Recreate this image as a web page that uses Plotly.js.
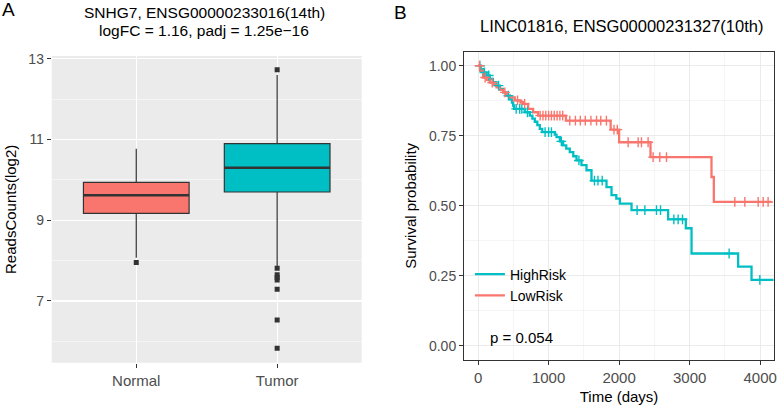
<!DOCTYPE html>
<html>
<head>
<meta charset="utf-8">
<script src="https://cdn.plot.ly/plotly-3.0.1.min.js"></script>
<style>html,body{margin:0;padding:0;background:#fff}#chart{width:778px;height:409px}</style>
</head>
<body>
<div id="chart"></div>
<script>
// ---------- Panel A data (box plot) ----------
const categories = ['Normal', 'Tumor'];
const categoryPos = [1, 2];
const q1 = [9.17, 9.70];
const median = [9.62, 10.30];
const q3 = [9.94, 10.90];
const lowerWhisker = [8.07, 7.86];
const upperWhisker = [10.77, 12.60];
const outliersNormal = [7.95];
const outliersTumor = [12.73, 7.81, 7.65, 7.58, 7.52, 7.29, 6.53, 5.83];
const boxColors = ['#F8766D', '#00BFC4'];

// ---------- Panel B data (Kaplan-Meier) ----------
const highTime = [0,40,71,120,166,210,261,310,355,400,450,480,497,510,662,733,770,804,840,875,910,1088,1112,1160,1206,1250,1300,1350,1396,1466,1537,1608,1821,1892,1960,2010,2176,2695,2946,3027,3688,3878,4190];
const highSurv = [1.0,0.988,0.976,0.965,0.953,0.941,0.929,0.917,0.905,0.893,0.88,0.868,0.858,0.846,0.834,0.822,0.811,0.8,0.788,0.775,0.763,0.754,0.745,0.73,0.716,0.704,0.692,0.677,0.662,0.645,0.627,0.59,0.567,0.538,0.526,0.508,0.485,0.452,0.42,0.33,0.283,0.236,0.236];
const lowTime = [0,30,71,120,166,220,261,310,355,403,450,520,600,639,709,780,851,1245,1880,2000,2445,3310,3343,4162];
const lowSurv = [1.0,0.982,0.958,0.95,0.94,0.931,0.923,0.914,0.905,0.893,0.887,0.876,0.87,0.864,0.846,0.834,0.822,0.804,0.772,0.727,0.674,0.603,0.514,0.514];
const highCensorTime = [25,90,150,290,430,540,590,620,700,950,1000,1040,1180,1430,1650,1700,1760,2255,2365,2530,2587,2776,2837,2899,3560,3996];
const lowCensorTime = [20,100,200,380,560,660,880,920,960,1000,1040,1080,1120,1160,1200,1300,1380,1450,1520,1600,1680,1740,1820,1927,1974,2128,2270,2317,2411,2482,2577,2672,3641,3783,3972,4043,4113];
const groups = ['HighRisk', 'LowRisk'];
const groupColors = ['#00BFC4', '#F8766D'];
const pValueText = 'p = 0.054';

// step-function lookup for censor marks
function survAt(times, surv, t) {
  let v = surv[0];
  for (let i = 0; i < times.length; i++) { if (times[i] <= t) v = surv[i]; else break; }
  return v;
}

const FONT = 'Liberation Sans, Arial, sans-serif';
const boxWidth = 0.75;
const traces = [];

// Boxes
categories.forEach((c, i) => {
  traces.push({
    type: 'box', name: c, x: [categoryPos[i]],
    q1: [q1[i]], median: [median[i]], q3: [q3[i]],
    lowerfence: [lowerWhisker[i]], upperfence: [upperWhisker[i]],
    width: boxWidth, whiskerwidth: 0, boxpoints: false,
    fillcolor: boxColors[i], line: {color: '#333333', width: 1.2},
    xaxis: 'x', yaxis: 'y', showlegend: false, hoverinfo: 'skip'
  });
  // thicker median line (ggplot fatten)
  traces.push({
    type: 'scatter', mode: 'lines',
    x: [categoryPos[i] - boxWidth / 2, categoryPos[i] + boxWidth / 2],
    y: [median[i], median[i]],
    line: {color: '#333333', width: 2.6},
    xaxis: 'x', yaxis: 'y', showlegend: false, hoverinfo: 'skip'
  });
});
// Outliers
const outs = [outliersNormal, outliersTumor];
outs.forEach((arr, i) => {
  traces.push({
    type: 'scatter', mode: 'markers',
    x: arr.map(() => categoryPos[i]), y: arr,
    marker: {symbol: 'square', size: 5, color: '#333333'},
    xaxis: 'x', yaxis: 'y', showlegend: false, hoverinfo: 'skip'
  });
});

// KM curves
const kmT = [highTime, lowTime], kmS = [highSurv, lowSurv], kmC = [highCensorTime, lowCensorTime];
groups.forEach((g, i) => {
  traces.push({
    type: 'scatter', mode: 'lines', name: g,
    x: kmT[i], y: kmS[i], line: {shape: 'hv', color: groupColors[i], width: 2.3},
    xaxis: 'x2', yaxis: 'y2', showlegend: true
  });
});
groups.forEach((g, i) => {
  traces.push({
    type: 'scatter', mode: 'markers', name: g + ' censor',
    x: kmC[i], y: kmC[i].map(t => survAt(kmT[i], kmS[i], t)),
    marker: {symbol: 'cross-thin', size: 7, line: {color: groupColors[i], width: 1.4}},
    xaxis: 'x2', yaxis: 'y2', showlegend: false, hoverinfo: 'skip'
  });
});

const tickFont = {family: FONT, size: 14, color: '#4D4D4D'};
const layout = {
  width: 778, height: 409,
  margin: {l: 0, r: 0, t: 0, b: 0},
  paper_bgcolor: '#ffffff', plot_bgcolor: '#ffffff',
  showlegend: true,
  legend: {x: 0.604, y: 0.368, xanchor: 'left', yanchor: 'top', bgcolor: 'rgba(0,0,0,0)',
           font: {family: FONT, size: 14, color: '#000'}, tracegroupgap: 0},
  xaxis: {
    domain: [0.0665, 0.4649], range: [0.4, 2.6],
    tickvals: categoryPos, ticktext: categories,
    showgrid: true, gridcolor: '#ffffff', gridwidth: 1.1, zeroline: false,
    ticks: 'outside', ticklen: 4, tickcolor: '#333333', tickwidth: 1,
    tickfont: {family: FONT, size: 15, color: '#4D4D4D'}, showline: false
  },
  yaxis: {
    domain: [0.1132, 0.8631], range: [5.47, 13.07],
    tickvals: [7, 9, 11, 13], showgrid: true, gridcolor: '#ffffff', gridwidth: 1.1, zeroline: false,
    minor: {tickvals: [6, 8, 10, 12], showgrid: true, gridcolor: '#ffffff', gridwidth: 0.5, ticks: ''},
    ticks: 'outside', ticklen: 4, tickcolor: '#333333', tickwidth: 1,
    tickfont: tickFont, showline: false,
    title: {text: 'ReadsCounts(log2)', font: {family: FONT, size: 15, color: '#000'}, standoff: 8}
  },
  xaxis2: {
    domain: [0.5964, 0.9949], range: [-200, 4197], anchor: 'y2',
    tickvals: [0, 1000, 2000, 3000, 4000],
    showgrid: true, gridcolor: '#EBEBEB', gridwidth: 1, zeroline: false,
    minor: {tickvals: [500, 1500, 2500, 3500], showgrid: true, gridcolor: '#EBEBEB', gridwidth: 0.5, ticks: ''},
    ticks: 'outside', ticklen: 4, tickcolor: '#333333', tickwidth: 1,
    tickfont: {family: FONT, size: 15, color: '#4D4D4D'},
    showline: true, mirror: true, linecolor: '#333333', linewidth: 1,
    title: {text: 'Time (days)', font: {family: FONT, size: 15, color: '#000'}, standoff: 6}
  },
  yaxis2: {
    domain: [0.1198, 0.8736], range: [-0.05, 1.05], anchor: 'x2',
    tickvals: [0, 0.25, 0.5, 0.75, 1], ticktext: ['0.00', '0.25', '0.50', '0.75', '1.00'],
    showgrid: true, gridcolor: '#EBEBEB', gridwidth: 1, zeroline: false,
    minor: {tickvals: [0.125, 0.375, 0.625, 0.875], showgrid: true, gridcolor: '#EBEBEB', gridwidth: 0.5, ticks: ''},
    ticks: 'outside', ticklen: 4, tickcolor: '#333333', tickwidth: 1,
    tickfont: tickFont,
    showline: true, mirror: true, linecolor: '#333333', linewidth: 1,
    title: {text: 'Survival probability', font: {family: FONT, size: 15, color: '#000'}, standoff: 8}
  },
  shapes: [
    {type: 'rect', xref: 'x domain', yref: 'y domain', x0: 0, x1: 1, y0: 0, y1: 1,
     fillcolor: '#EBEBEB', line: {width: 0}, layer: 'below'}
  ],
  annotations: [
    {text: 'A', xref: 'paper', yref: 'paper', x: 8.5 / 778, y: 1 - 9 / 409, xanchor: 'center', yanchor: 'middle',
     showarrow: false, font: {family: FONT, size: 19, color: '#000'}},
    {text: 'B', xref: 'paper', yref: 'paper', x: 400 / 778, y: 1 - 13 / 409, xanchor: 'center', yanchor: 'middle',
     showarrow: false, font: {family: FONT, size: 19, color: '#000'}},
    {text: 'SNHG7, ENSG00000233016(14th)', xref: 'paper', yref: 'paper', x: 204 / 778, y: 1 - 12.5 / 409,
     xanchor: 'center', yanchor: 'middle', showarrow: false, font: {family: FONT, size: 15.5, color: '#000'}},
    {text: 'logFC = 1.16, padj = 1.25e\u221216', xref: 'paper', yref: 'paper', x: 204 / 778, y: 1 - 31 / 409,
     xanchor: 'center', yanchor: 'middle', showarrow: false, font: {family: FONT, size: 15.5, color: '#000'}},
    {text: 'LINC01816, ENSG00000231327(10th)', xref: 'paper', yref: 'paper', x: 621 / 778, y: 1 - 26 / 409,
     xanchor: 'center', yanchor: 'middle', showarrow: false, font: {family: FONT, size: 16.5, color: '#000'}},
    {text: pValueText, xref: 'x2', yref: 'y2', x: 140, y: 0.032, xanchor: 'left', yanchor: 'middle',
     showarrow: false, font: {family: FONT, size: 15, color: '#000'}}
  ]
};

Plotly.newPlot('chart', traces, layout, {staticPlot: true, displayModeBar: false});
</script>
</body>
</html>
